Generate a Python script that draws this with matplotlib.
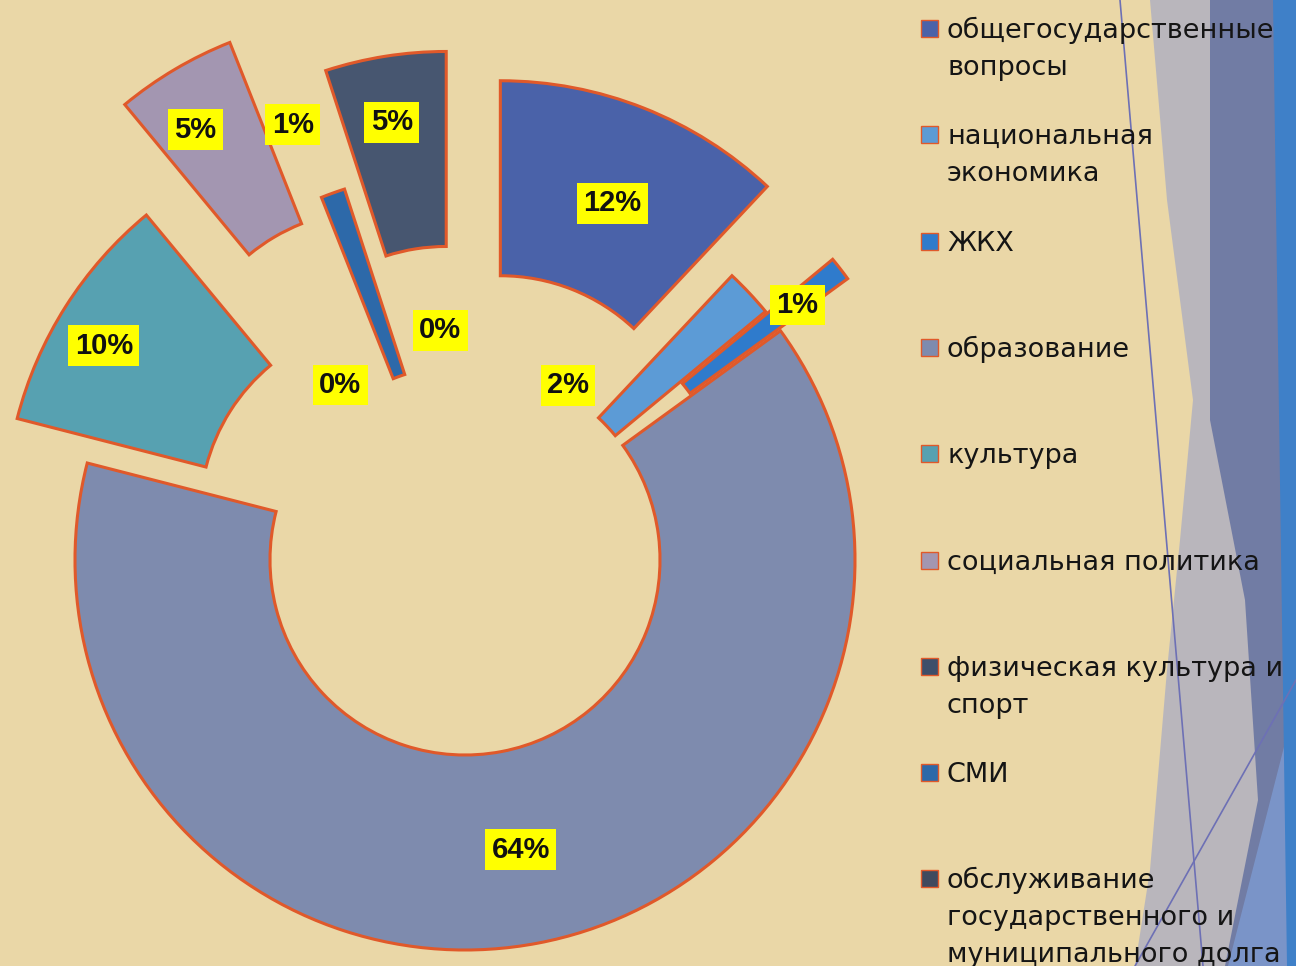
import matplotlib
matplotlib.use("Agg")
import numpy as np
import matplotlib.pyplot as plt
from matplotlib.patches import Wedge, Rectangle, Polygon

# ---------------- data ----------------
categories = [
    "общегосударственные\nвопросы",
    "национальная\nэкономика",
    "ЖКХ",
    "образование",
    "культура",
    "социальная политика",
    "физическая культура и\nспорт",
    "СМИ",
    "обслуживание\nгосударственного и\nмуниципального долга",
    "межбюджетные трансферты",
]
shares = [12, 2, 1, 64, 10, 5, 0, 1, 0, 5]
slice_colors = ["#4a62a9", "#5c9bd6", "#2f7bcc", "#7e8bae", "#57a1b1",
                "#a396b1", "#3d4f6a", "#2d69a9", "#3f4a5e", "#475670"]

# ---------------- style ----------------
explode_px = [96, 0, 85, 0, 83, 180, 0, 0, 0, 120]
label_r = [386, 203, 419, 295, 420, 508, 215, 468, 231, 444]
label_shift = [0.8, -16.3, 0.3, -0.1, -1.7, -1.5, -13.9, -1.8, 11.8, -0.5]
center = (465, 560)
r_out, ring_w = 390, 195
edge_col = "#e0592a"
bg_col = "#ead7a7"
legend_visible = 9          # last entry falls below the frame in the reference

fig = plt.figure(figsize=(12.96, 9.66), dpi=100)
fig.patch.set_facecolor(bg_col)
ax = fig.add_axes([0, 0, 1, 1])
ax.set_xlim(0, 1296)
ax.set_ylim(966, 0)
ax.axis("off")

# ---- decorative facets on the right ----
ax.add_patch(Polygon([(1150, 0), (1296, 0), (1296, 966), (1135, 966), (1150, 870),
                      (1167, 670), (1180, 540), (1193, 400), (1167, 200)],
                     closed=True, fc="#a9acc4", ec="none", alpha=0.75, zorder=0))
ax.add_patch(Polygon([(1210, 0), (1296, 0), (1296, 966), (1225, 966), (1258, 800),
                      (1245, 600), (1210, 420)],
                     closed=True, fc="#6a76a2", ec="none", alpha=0.9, zorder=0))
ax.add_patch(Polygon([(1228, 966), (1296, 700), (1296, 966)],
                     closed=True, fc="#7f9fd8", ec="none", alpha=0.7, zorder=0))
ax.add_patch(Polygon([(1273, 0), (1296, 0), (1296, 966), (1287, 966)],
                     closed=True, fc="#3f80c8", ec="none", zorder=0))
ax.plot([1120, 1203], [0, 966], color="#6d70b5", lw=1.2, zorder=0.5)
ax.plot([1296, 1135], [680, 966], color="#6d70b5", lw=1.2, zorder=0.5)

# ---- exploded doughnut ----
total = float(sum(shares))
start = 0.0
for i, v in enumerate(shares):
    span = 360.0 * v / total
    mid = start + span / 2.0
    if v > 0:
        d = explode_px[i]
        cx = center[0] + d * np.sin(np.radians(mid))
        cy = center[1] - d * np.cos(np.radians(mid))
        ax.add_patch(Wedge((cx, cy), r_out, start - 90, start + span - 90, width=ring_w,
                           fc=slice_colors[i], ec=edge_col, lw=2.2, zorder=2))
    th = np.radians(mid + label_shift[i])
    lx = center[0] + label_r[i] * np.sin(th)
    ly = center[1] - label_r[i] * np.cos(th)
    ax.text(lx, ly, f"{v}%", ha="center", va="center", fontsize=21,
            fontweight="bold", family="Liberation Sans", color="#111111", zorder=5,
            bbox=dict(boxstyle="square,pad=0.22", fc="#ffff00", ec="none"))
    start += span

# ---- legend (drawn manually to keep the reference's fixed row spacing) ----
base0, step, line_h = 38, 106.3, 37
for i, name in enumerate(categories[:legend_visible]):
    b = base0 + i * step
    ax.add_patch(Rectangle((921, b - 18), 17, 17, fc=slice_colors[i], ec=edge_col,
                           lw=1.0, zorder=4))
    for j, line in enumerate(name.split("\n")):
        ax.text(947, b + j * line_h, line, ha="left", va="baseline", fontsize=19.5,
                family="DejaVu Sans", color="#151515", zorder=5)

fig.savefig("out.png", dpi=100, facecolor=fig.get_facecolor())
